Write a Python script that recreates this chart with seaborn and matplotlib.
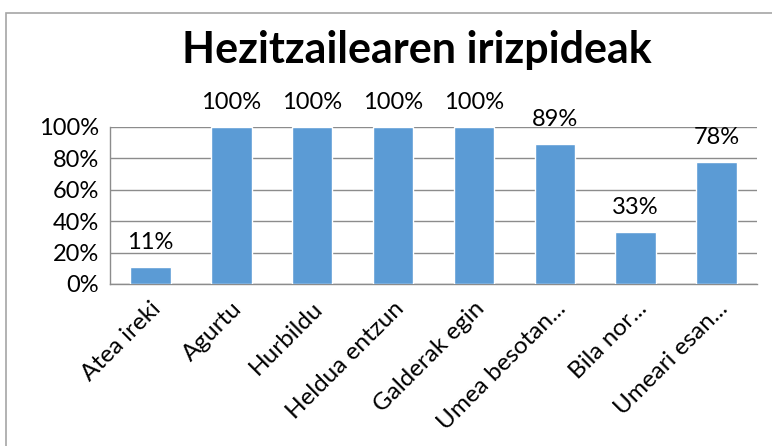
import matplotlib
matplotlib.use("Agg")
import matplotlib.pyplot as plt
import matplotlib.patches as mpatches
import seaborn as sns
import pandas as pd
import numpy as np

# --- data ---
categories = ['Atea ireki', 'Agurtu', 'Hurbildu', 'Heldua entzun',
              'Galderak egin', 'Umea besotan...', 'Bila nor...', 'Umeari esan...']
values = [0.11, 1.00, 1.00, 1.00, 1.00, 0.89, 0.33, 0.78]
value_labels = ['11%', '100%', '100%', '100%', '100%', '89%', '33%', '78%']
yticks = [0, 0.2, 0.4, 0.6, 0.8, 1.0]
ytick_labels = ['0%', '20%', '40%', '60%', '80%', '100%']

df = pd.DataFrame({'crit': categories, 'val': values})

sns.set_style('white')
plt.rcParams['font.family'] = ['Lato', 'DejaVu Sans']
plt.rcParams['text.color'] = 'black'
plt.rcParams['xtick.labelcolor'] = 'black'
plt.rcParams['ytick.labelcolor'] = 'black'

fig = plt.figure(figsize=(7.72, 4.46), dpi=100)
ax = fig.add_axes([110/772, 1-284/446, (757-110)/772, (284-127)/446])

# chart area border
fig.patches.append(mpatches.Rectangle((6/772, -0.1), 1.0, 1-13/446+0.1,
                                      transform=fig.transFigure, fill=False,
                                      edgecolor='#a6a6a6', linewidth=1.2))

sns.barplot(data=df, x='crit', y='val', color='#5B9BD5', width=0.5,
            saturation=1, ax=ax, zorder=3)

for i, (v, lab) in enumerate(zip(values, value_labels)):
    ax.annotate(lab, (i, v), xytext=(0, 10), textcoords='offset points',
                ha='center', va='bottom', fontsize=17, color='black')

ax.set_ylim(0, 1)
ax.set_xlim(-0.5, len(categories) - 0.5)
ax.set_yticks(yticks)
ax.set_yticklabels(ytick_labels, fontsize=17)
ax.yaxis.grid(True, color='#8c8c8c', linewidth=1)
ax.set_axisbelow(True)

ax.set_xticks(range(len(categories)))
ax.set_xticklabels(categories, rotation=45, ha='right', rotation_mode='anchor',
                   fontsize=17.5)
ax.set_xticks(np.arange(-0.5, len(categories)), minor=True)
ax.tick_params(axis='x', which='major', length=0, pad=10)
ax.tick_params(axis='x', which='minor', length=5, color='#8c8c8c', direction='out')
ax.tick_params(axis='y', length=5, color='#8c8c8c', direction='out', pad=3)
ax.set_xlabel('')
ax.set_ylabel('')

for s in ['top', 'right']:
    ax.spines[s].set_visible(False)
for s in ['left', 'bottom']:
    ax.spines[s].set_color('#8c8c8c')
    ax.spines[s].set_linewidth(1)

fig.text(417/772, 1-50/446, 'Hezitzailearen irizpideak', ha='center', va='center',
         fontsize=31, fontweight='bold', color='black')

fig.savefig('out.png', dpi=100)
